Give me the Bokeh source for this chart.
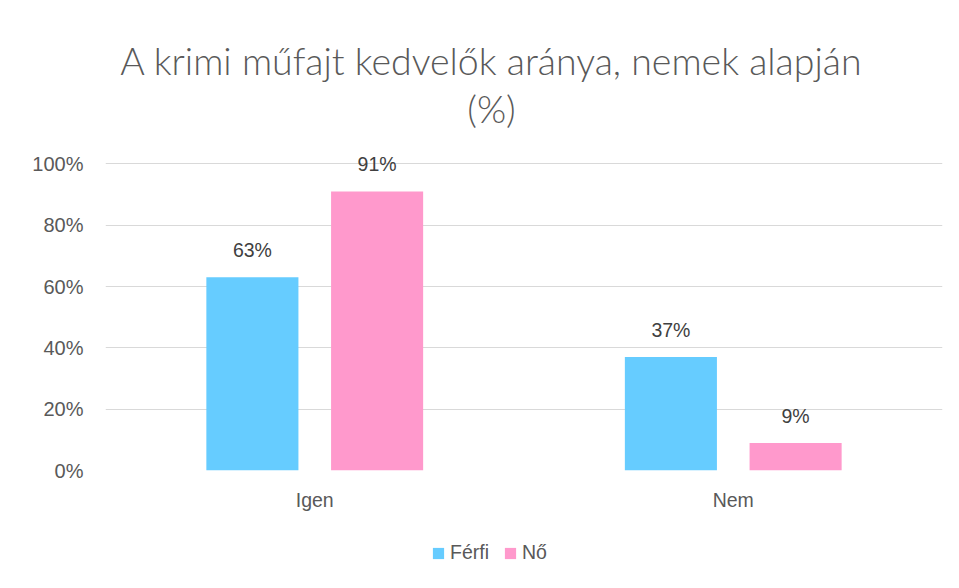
from bokeh.plotting import figure
from bokeh.layouts import column
from bokeh.models import ColumnDataSource, FactorRange, Range1d, LabelSet, Label, Legend, LegendItem, NumeralTickFormatter
from bokeh.core.properties import value
from bokeh.transform import dodge
from bokeh.embed import file_html
from bokeh.resources import INLINE

categories = ["Igen", "Nem"]
series = ["Férfi", "Nő"]
ferfi = [0.63, 0.37]
no = [0.91, 0.09]
ferfi_labels = ["63%", "37%"]
no_labels = ["91%", "9%"]
y_ticks = [0, 0.2, 0.4, 0.6, 0.8, 1.0]
title_lines = ["A krimi műfajt kedvelők aránya, nemek alapján", "(%)"]

BLUE = "#66CCFF"
PINK = "#FF99CC"
TXT = "#595959"
FONT = "Liberation Sans"
W = 950
LEFT = 105
RIGHT = 8


def blank(height, xr, yr):
    f = figure(width=W, height=height, x_range=xr, y_range=yr,
               x_axis_location=None, y_axis_location=None,
               output_backend="svg", toolbar_location=None,
               min_border_left=LEFT, min_border_right=RIGHT, min_border_top=0, min_border_bottom=0)
    f.grid.visible = False
    f.outline_line_color = None
    return f


# ---- title strip (x in page pixels) ----
pt = blank(130, Range1d(LEFT, W - RIGHT), Range1d(130, 0))
for t, yy in zip(title_lines, [60, 108]):
    pt.add_layout(Label(x=491, y=yy, text=t, text_align="center", text_baseline="middle",
                        text_font="'Lato Light', Lato", text_font_size="37.5px", text_color=TXT))

# ---- main chart ----
src = ColumnDataSource(dict(cat=categories, ferfi=ferfi, no=no, fl=ferfi_labels, nl=no_labels))

p = figure(x_range=FactorRange(*categories), y_range=Range1d(0, 1.06),
           width=W, height=395, output_backend="svg", toolbar_location=None,
           min_border_left=LEFT, min_border_right=RIGHT, min_border_top=15, min_border_bottom=55)

r1 = p.vbar(x=dodge("cat", -0.149, range=p.x_range), top="ferfi", width=0.22, source=src,
            fill_color=BLUE, line_color=None)
r2 = p.vbar(x=dodge("cat", 0.149, range=p.x_range), top="no", width=0.22, source=src,
            fill_color=PINK, line_color=None)

for col, lab, off in [("ferfi", "fl", -0.149), ("no", "nl", 0.149)]:
    p.add_layout(LabelSet(x=dodge("cat", off, range=p.x_range), y=col, text=lab, source=src,
                          text_align="center", text_baseline="bottom", y_offset=16,
                          text_font=value(FONT), text_font_size="19.5px", text_color="#404040"))

p.yaxis.ticker = y_ticks
p.yaxis.formatter = NumeralTickFormatter(format="0%")
for ax in (p.xaxis, p.yaxis):
    ax.axis_line_color = None
    ax.major_tick_line_color = None
    ax.minor_tick_line_color = None
    ax.major_label_text_font = FONT
    ax.major_label_text_font_size = "20px"
    ax.major_label_text_color = TXT
p.xaxis.major_label_text_font_size = "19.5px"
p.yaxis.major_label_standoff = 16
p.xaxis.major_label_standoff = 12

p.xgrid.grid_line_color = None
p.ygrid.grid_line_color = "#d9d9d9"
p.ygrid.ticker = y_ticks
p.outline_line_color = None

# ---- legend strip ----
pl = blank(55, Range1d(0, 1), Range1d(0, 1))
lsrc = ColumnDataSource(dict(x=[-5.0], top=[-5.0]))   # off-screen proxy glyphs for legend swatches
g1 = pl.vbar(x="x", top="top", width=0.1, source=lsrc, fill_color=BLUE, line_color=None)
g2 = pl.vbar(x="x", top="top", width=0.1, source=lsrc, fill_color=PINK, line_color=None)
legend = Legend(items=[LegendItem(label=series[0], renderers=[g1]), LegendItem(label=series[1], renderers=[g2])],
                orientation="horizontal", location=(326, 16),
                label_text_font=FONT, label_text_font_size="19.5px", label_text_color=TXT,
                glyph_width=14, glyph_height=14, spacing=14, label_standoff=5,
                border_line_color=None, background_fill_alpha=0, padding=2, margin=0)
pl.add_layout(legend, "center")

layout = column(pt, p, pl, spacing=0)
open("out.html", "w").write(file_html(layout, INLINE))
